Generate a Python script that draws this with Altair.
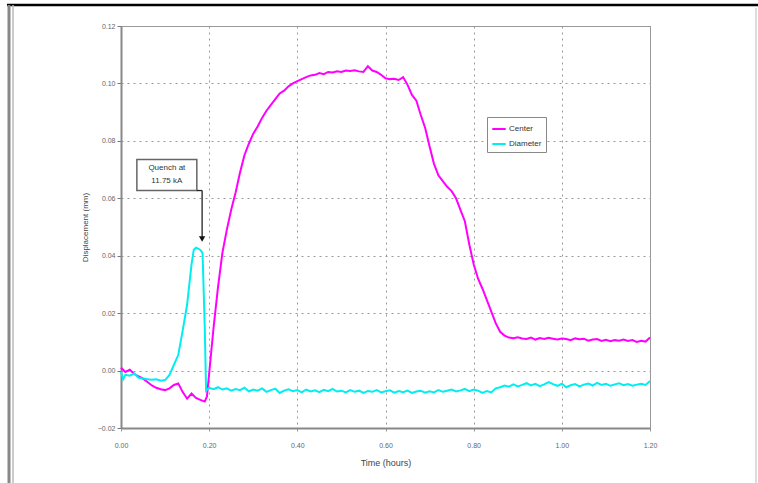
import altair as alt
import pandas as pd

# ---------------- data ----------------
center_t = [0.00, 0.01, 0.02, 0.03, 0.04, 0.05, 0.06, 0.07, 0.08, 0.09,
            0.10, 0.11, 0.12, 0.13, 0.14, 0.15, 0.16, 0.17, 0.18, 0.19,
            0.195, 0.20, 0.21, 0.22, 0.23, 0.24, 0.25, 0.26, 0.27, 0.28,
            0.29, 0.30, 0.31, 0.32, 0.33, 0.34, 0.35, 0.36, 0.37, 0.38,
            0.39, 0.40, 0.41, 0.42, 0.43, 0.44, 0.45, 0.46, 0.47, 0.48,
            0.49, 0.50, 0.51, 0.52, 0.53, 0.54, 0.55, 0.56, 0.57, 0.58,
            0.59, 0.60, 0.61, 0.62, 0.63, 0.64, 0.65, 0.66, 0.67, 0.68,
            0.69, 0.70, 0.71, 0.72, 0.73, 0.74, 0.75, 0.76, 0.77, 0.78,
            0.79, 0.80, 0.81, 0.82, 0.83, 0.84, 0.85, 0.86, 0.87, 0.88,
            0.89, 0.90, 0.91, 0.92, 0.93, 0.94, 0.95, 0.96, 0.97, 0.98,
            0.99, 1.00, 1.01, 1.02, 1.03, 1.04, 1.05, 1.06, 1.07, 1.08,
            1.09, 1.10, 1.11, 1.12, 1.13, 1.14, 1.15, 1.16, 1.17, 1.18,
            1.19, 1.20]
center_v = [0.0010, -0.0005, 0.0003, -0.0012, -0.0020, -0.0028, -0.0040, -0.0052, -0.0060, -0.0065,
            -0.0068, -0.0062, -0.0050, -0.0045, -0.0075, -0.0098, -0.0080, -0.0095, -0.0102, -0.0108,
            -0.0090, -0.0010, 0.0150, 0.0290, 0.0410, 0.0490, 0.0560, 0.0620, 0.0690, 0.0750,
            0.0790, 0.0825, 0.0850, 0.0880, 0.0905, 0.0925, 0.0945, 0.0965, 0.0975, 0.0990,
            0.1000, 0.1008, 0.1015, 0.1022, 0.1028, 0.1030, 0.1036, 0.1032, 0.1040, 0.1038,
            0.1042, 0.1040, 0.1045, 0.1043, 0.1046, 0.1042, 0.1040, 0.1060, 0.1045, 0.1040,
            0.1030, 0.1018, 0.1015, 0.1016, 0.1012, 0.1022, 0.0995, 0.0960, 0.0940, 0.0890,
            0.0845, 0.0780, 0.0720, 0.0680, 0.0660, 0.0640, 0.0625, 0.0600, 0.0560, 0.0520,
            0.0440, 0.0370, 0.0320, 0.0285, 0.0245, 0.0205, 0.0165, 0.0135, 0.0122, 0.0115,
            0.0113, 0.0116, 0.0112, 0.0110, 0.0115, 0.0108, 0.0113, 0.0110, 0.0114, 0.0111,
            0.0108, 0.0112, 0.0110, 0.0106, 0.0112, 0.0109, 0.0111, 0.0104, 0.0108, 0.0110,
            0.0103, 0.0107, 0.0102, 0.0106, 0.0104, 0.0108, 0.0103, 0.0106, 0.0100, 0.0104,
            0.0101, 0.0115]

diameter_t = [0.00, 0.005, 0.01, 0.02, 0.03, 0.04, 0.05, 0.06, 0.07, 0.08,
              0.09, 0.10, 0.11, 0.12, 0.13, 0.14, 0.15, 0.16, 0.165, 0.17,
              0.175, 0.18, 0.185, 0.19, 0.193, 0.20, 0.21, 0.22, 0.23, 0.24,
              0.25, 0.26, 0.27, 0.28, 0.29, 0.30, 0.31, 0.32, 0.33, 0.34,
              0.35, 0.36, 0.37, 0.38, 0.39, 0.40, 0.41, 0.42, 0.43, 0.44,
              0.45, 0.46, 0.47, 0.48, 0.49, 0.50, 0.51, 0.52, 0.53, 0.54,
              0.55, 0.56, 0.57, 0.58, 0.59, 0.60, 0.61, 0.62, 0.63, 0.64,
              0.65, 0.66, 0.67, 0.68, 0.69, 0.70, 0.71, 0.72, 0.73, 0.74,
              0.75, 0.76, 0.77, 0.78, 0.79, 0.80, 0.81, 0.82, 0.83, 0.84,
              0.85, 0.86, 0.87, 0.88, 0.89, 0.90, 0.91, 0.92, 0.93, 0.94,
              0.95, 0.96, 0.97, 0.98, 0.99, 1.00, 1.01, 1.02, 1.03, 1.04,
              1.05, 1.06, 1.07, 1.08, 1.09, 1.10, 1.11, 1.12, 1.13, 1.14,
              1.15, 1.16, 1.17, 1.18, 1.19, 1.20]
diameter_v = [-0.0005, -0.0030, -0.0015, -0.0018, -0.0010, -0.0025, -0.0028, -0.0030, -0.0032, -0.0030,
              -0.0035, -0.0033, -0.0015, 0.0020, 0.0055, 0.0140, 0.0230, 0.0370, 0.0420, 0.0428,
              0.0425, 0.0420, 0.0410, 0.0150, -0.0070, -0.0060, -0.0065, -0.0058, -0.0066, -0.0062,
              -0.0070, -0.0064, -0.0068, -0.0060, -0.0072, -0.0066, -0.0070, -0.0062, -0.0074, -0.0068,
              -0.0063, -0.0078, -0.0070, -0.0065, -0.0072, -0.0068, -0.0076, -0.0066, -0.0073, -0.0069,
              -0.0075, -0.0067, -0.0072, -0.0064, -0.0073, -0.0070, -0.0076, -0.0068, -0.0074, -0.0070,
              -0.0078, -0.0071, -0.0074, -0.0068, -0.0076, -0.0072, -0.0069, -0.0077, -0.0071, -0.0075,
              -0.0070, -0.0078, -0.0073, -0.0070, -0.0077, -0.0072, -0.0076, -0.0068, -0.0074, -0.0070,
              -0.0066, -0.0073, -0.0069, -0.0064, -0.0072, -0.0066, -0.0070, -0.0078, -0.0071, -0.0076,
              -0.0062, -0.0058, -0.0052, -0.0056, -0.0048, -0.0055, -0.0050, -0.0044, -0.0052, -0.0046,
              -0.0054, -0.0048, -0.0040, -0.0047, -0.0053, -0.0046, -0.0058, -0.0051, -0.0047, -0.0055,
              -0.0049, -0.0045, -0.0052, -0.0043, -0.0050, -0.0046, -0.0053, -0.0048, -0.0044, -0.0051,
              -0.0047, -0.0053, -0.0049, -0.0046, -0.0050, -0.0036]

series_names = ["Center", "Diameter"]
series_colors = ["#ff00ff", "#00eef2"]

x_ticks = [0.0, 0.2, 0.4, 0.6, 0.8, 1.0, 1.2]
y_ticks = [-0.02, 0.0, 0.02, 0.04, 0.06, 0.08, 0.10, 0.12]

annot_lines = ["Quench at", "11.75 kA"]

# ---------------- build ----------------
df = pd.concat([
    pd.DataFrame({"t": center_t, "v": center_v, "series": "Center"}),
    pd.DataFrame({"t": diameter_t, "v": diameter_v, "series": "Diameter"}),
], ignore_index=True)

x_scale = alt.Scale(domain=[0, 1.2], nice=False, zero=False)
y_scale = alt.Scale(domain=[-0.02, 0.12], nice=False, zero=False)
FONT = "Liberation Sans"

lines = alt.Chart(df).mark_line(strokeWidth=2).encode(
    x=alt.X("t:Q", scale=x_scale,
            axis=alt.Axis(values=x_ticks, format=".2f", title="Time (hours)",
                          labelFontSize=7, labelColor="#666", titleFontSize=9,
                          titleColor="#444", titleFontWeight="normal",
                          tickSize=3, labelPadding=10, titlePadding=10,
                          labelFlush=False,
                          domainColor="#888", domainWidth=2, tickColor="#999",
                          grid=True, gridDash=[2, 4], gridColor="#999",
                          labelFont=FONT, titleFont=FONT)),
    y=alt.Y("v:Q", scale=y_scale,
            axis=alt.Axis(values=y_ticks, format=".2f", title="Displacement (mm)",
                          labelFontSize=7, labelColor="#666", titleFontSize=8,
                          titleColor="#444", titleFontWeight="normal",
                          tickSize=4, labelPadding=2, titlePadding=8,
                          labelFlush=False,
                          domainColor="#888", domainWidth=2, tickColor="#777",
                          grid=True, gridDash=[2, 4], gridColor="#999",
                          labelFont=FONT, titleFont=FONT)),
    color=alt.Color("series:N",
                    scale=alt.Scale(domain=series_names, range=series_colors),
                    legend=alt.Legend(title=None, orient="none", legendX=366, legendY=91,
                                      symbolType="stroke", symbolStrokeWidth=2,
                                      symbolSize=180, labelFontSize=8,
                                      labelColor="#333", labelFont=FONT,
                                      padding=4, strokeColor="#888",
                                      fillColor="white", rowPadding=3,
                                      labelOffset=2)),
)

# annotation (box + text + arrow), in data coordinates
box_df = pd.DataFrame({"x1": [0.036], "x2": [0.172], "y1": [0.0627], "y2": [0.0735]})
box = alt.Chart(box_df).mark_rect(fill="white", stroke="#666", strokeWidth=1.5).encode(
    x="x1:Q", x2="x2:Q", y="y1:Q", y2="y2:Q")

txt_df = pd.DataFrame({"tx": [0.104, 0.104], "ty": [0.0704, 0.0660], "label": annot_lines})
txt = alt.Chart(txt_df).mark_text(fontSize=8, color="#333", font=FONT).encode(
    x="tx:Q", y="ty:Q", text="label:N")

conn_df = pd.DataFrame({"ax": [0.172, 0.184], "ax2": [0.184, 0.184],
                        "ay": [0.0627, 0.0627], "ay2": [0.0627, 0.0462]})
conn = alt.Chart(conn_df).mark_rule(color="#222", strokeWidth=1.3).encode(
    x="ax:Q", x2="ax2:Q", y="ay:Q", y2="ay2:Q")

head_df = pd.DataFrame({"hx": [0.184], "hy": [0.0458]})
head = alt.Chart(head_df).mark_point(shape="triangle-down", filled=True, color="#111",
                                     size=40, opacity=1).encode(x="hx:Q", y="hy:Q")

# page frame decoration
one = alt.Data(values=[{"k": 1}])
frame_top = alt.Chart(one).mark_rule(color="#000", strokeWidth=2.5).encode(
    x=alt.value(-114), x2=alt.value(637), y=alt.value(-21))
frame_left = alt.Chart(one).mark_rule(color="#888", strokeWidth=3).encode(
    x=alt.value(-112), y=alt.value(-21), y2=alt.value(457))
frame_left2 = alt.Chart(one).mark_rule(color="#bbb", strokeWidth=1.5).encode(
    x=alt.value(-108), y=alt.value(-21), y2=alt.value(457))
frame_right = alt.Chart(one).mark_rule(color="#bbb", strokeWidth=1).encode(
    x=alt.value(635), y=alt.value(-18), y2=alt.value(457))

chart = alt.layer(lines, box, txt, conn, head,
                  frame_top, frame_left, frame_left2, frame_right).properties(
    width=529, height=402,
    padding={"left": 121, "top": 26, "right": 108, "bottom": 55},
    autosize=alt.AutoSizeParams(type="none"),
    background="white",
).configure_view(stroke="#999", strokeWidth=1)

chart.save("out.html", embed_options={"renderer": "svg", "actions": False})
